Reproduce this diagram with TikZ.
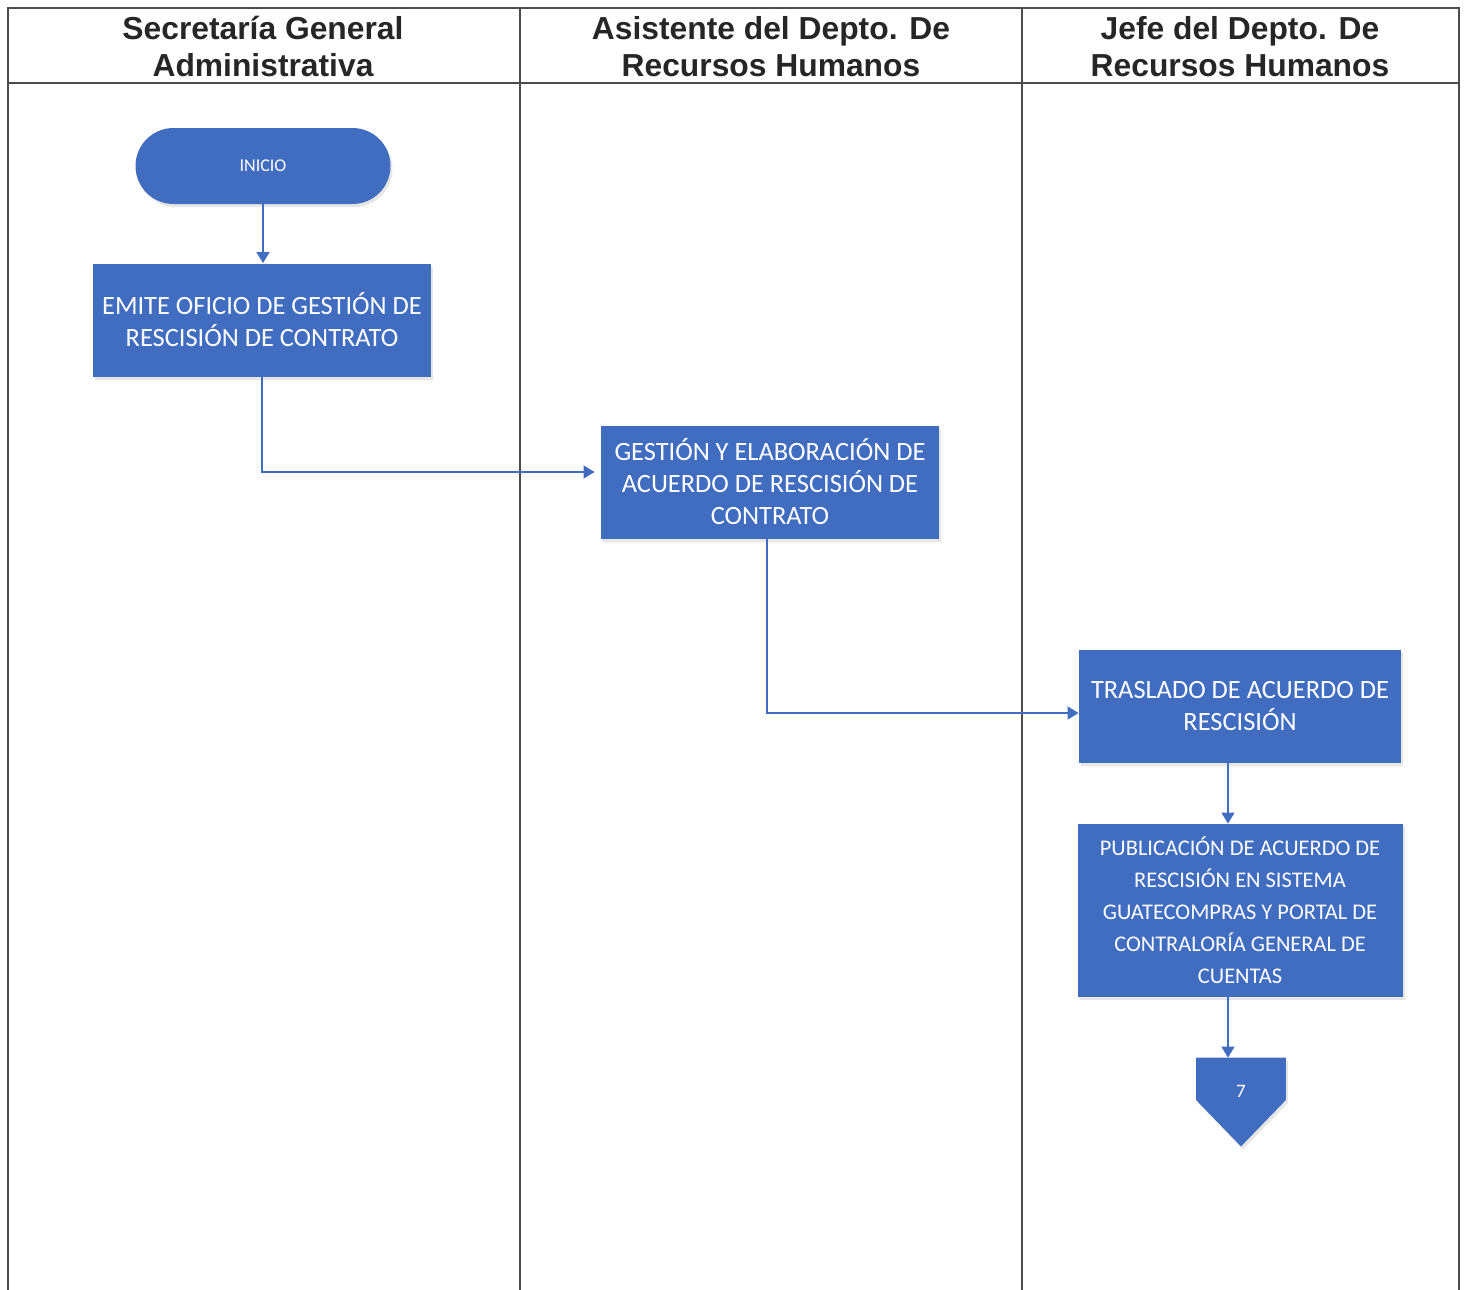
\documentclass[tikz,border=0pt]{standalone}
\usepackage{fontspec}
\setmainfont{Liberation Sans}
\newfontfamily\calibri{Carlito}
\usepackage{tikz}
\usetikzlibrary{positioning}
\usetikzlibrary{arrows.meta,shapes}
\usetikzlibrary{shadows}
\usetikzlibrary{calc}
\definecolor{procblue}{RGB}{64,109,192}
\tikzstyle{lane}=[draw=black!70,line width=0.8pt]
\tikzstyle{lanetitle}=[font=\fontsize{15.9}{18.5}\selectfont\bfseries,align=center,text=black!85]
\tikzstyle{process}=[rectangle,fill=procblue,text=white,align=center,inner sep=0pt,minimum width=169pt,minimum height=56.5pt,font=\calibri\fontsize{13.2}{16}\selectfont,drop shadow={opacity=0.2,shadow xshift=1pt,shadow yshift=-1.5pt}]
\tikzstyle{terminal}=[rectangle,rounded corners=19pt,fill=procblue,text=white,inner sep=0pt,minimum width=127.5pt,minimum height=38pt,font=\calibri\fontsize{9}{11}\selectfont,drop shadow={opacity=0.2,shadow xshift=1pt,shadow yshift=-1.5pt}]
\tikzstyle{offpage}=[rectangle,inner sep=0pt,minimum width=44.5pt,minimum height=44pt]
\tikzstyle{edge} = [draw=procblue,line width=0.7pt,-{Triangle[length=5.5pt,width=6.5pt]}]

\begin{document}
\begin{tikzpicture}[x=0.5pt,y=-0.5pt]

  \useasboundingbox (0,0) rectangle (1464,1290);

  % swimlanes
  \draw[lane] (8,1290) -- (8,8) -- (1459,8) -- (1459,1290);
  \draw[lane] (8,83) -- (1459,83);
  \foreach \x in {520,1022}
      \draw[lane] (\x,8) -- (\x,1290);

  \foreach \x/\name/\label in {263/T1/{Secretaría General\\Administrativa}, 771/T2/{Asistente del Depto. De\\Recursos Humanos}, 1240/T3/{Jefe del Depto. De\\Recursos Humanos}}
          \node[lanetitle] (\name) at (\x,46.5) {\label};

  % steps
  \node[terminal] (inicio) at (263,166) {INICIO};

  \foreach \x/\y/\name/\label in {262/320/P1/{EMITE OFICIO DE GESTIÓN DE\\RESCISIÓN DE CONTRATO}, 770/482/P2/{GESTIÓN Y ELABORACIÓN DE\\ACUERDO DE RESCISIÓN DE\\CONTRATO}}
          \node[process] (\name) at (\x,\y) {\label};

  \node[process, minimum width=161pt] (P3) at (1240,706) {TRASLADO DE ACUERDO DE\\RESCISIÓN};
  \node[process, minimum width=162.5pt, minimum height=86.5pt, font=\calibri\fontsize{11.2}{16}\selectfont] (P4) at (1240,910.5)
          {PUBLICACIÓN DE ACUERDO DE\\RESCISIÓN EN SISTEMA\\GUATECOMPRAS Y PORTAL DE\\CONTRALORÍA GENERAL DE\\CUENTAS};

  \node[offpage] (off7) at (1241,1102) {};
  \fill[procblue, drop shadow={opacity=0.2,shadow xshift=1pt,shadow yshift=-1.5pt}] (off7.north west) -- (off7.north east) -- ([yshift=1pt]off7.east) -- (off7.south) -- ([yshift=1pt]off7.west) -- cycle;
  \node[text=white, font=\calibri\fontsize{9.5}{11}\selectfont] (n7) at ([yshift=5.5pt]off7.center) {7};

  % connectors
  \path[edge] (inicio.south) -- (inicio.south |- P1.north);
  \path[edge] (P1.south) |- ([xshift=-3pt,yshift=5pt]P2.west);
  \path[edge] ([xshift=-1.5pt]P2.south) |- ([yshift=-3.5pt]P3.west);
  \path[edge] ([xshift=-6pt]P3.south) -- ([xshift=-6pt]P3.south |- P4.north);
  \path[edge] ([xshift=-6pt]P4.south) -- ([xshift=-6pt]P4.south |- off7.north);

\end{tikzpicture}
\end{document}
